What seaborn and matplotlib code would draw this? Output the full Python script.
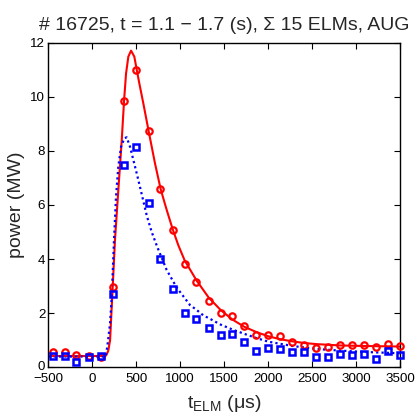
import numpy as np
import pandas as pd
import matplotlib
matplotlib.use("Agg")
import matplotlib.pyplot as plt
import matplotlib.transforms as mtransforms
import seaborn as sns

# ---- data ----
t_points = [-450, -315, -180, -40, 95, 230, 365, 500, 640, 775, 915, 1050, 1185,
            1325, 1460, 1595, 1730, 1865, 2000, 2140, 2275, 2410, 2545, 2680,
            2820, 2955, 3090, 3230, 3365, 3500]
red_points = [0.55, 0.55, 0.44, 0.43, 0.38, 2.96, 9.84, 11.0, 8.72, 6.58, 5.09,
              3.82, 3.15, 2.47, 2.0, 1.9, 1.53, 1.21, 1.21, 1.16, 0.92, 0.82,
              0.72, 0.76, 0.82, 0.82, 0.82, 0.77, 0.88, 0.78]
blue_points = [0.42, 0.42, 0.19, 0.40, 0.41, 2.72, 7.48, 8.15, 6.07, 4.0, 2.89,
               2.02, 1.78, 1.46, 1.21, 1.24, 0.92, 0.62, 0.73, 0.68, 0.58, 0.58,
               0.40, 0.40, 0.51, 0.46, 0.51, 0.31, 0.62, 0.47]

red_fit_t = [-500, 150, 164, 182, 202, 232, 258, 296, 335, 361, 384, 410, 441,
             478, 505, 535, 580, 642, 713, 778, 846, 915, 980, 1051, 1188, 1324,
             1460, 1593, 1729, 1870, 2002, 2138, 2279, 2411, 2548, 2821, 3094, 3500]
red_fit_v = [0.42, 0.42, 0.48, 0.62, 1.0, 2.96, 4.71, 6.55, 8.40, 9.84, 10.86,
             11.48, 11.70, 11.48, 11.0, 10.49, 9.76, 8.71, 7.54, 6.58, 5.82,
             5.10, 4.50, 3.95, 3.2, 2.58, 2.12, 1.77, 1.50, 1.30, 1.15, 1.04,
             0.96, 0.90, 0.86, 0.81, 0.79, 0.77]

blue_fit_t = [-500, 150, 171, 202, 221, 247, 270, 296, 327, 364, 391, 429, 467,
              505, 540, 580, 620, 676, 733, 770, 846, 960, 1112, 1188, 1263,
              1324, 1460, 1593, 1729, 1870, 2002, 2138, 2279, 2548, 2821, 3094, 3500]
blue_fit_v = [0.40, 0.40, 0.77, 1.63, 2.61, 4.71, 6.31, 7.42, 8.15, 8.46, 8.50,
              8.15, 7.66, 7.17, 6.70, 6.15, 5.60, 5.00, 4.50, 4.20, 3.60, 2.95,
              2.30, 2.12, 1.92, 1.82, 1.58, 1.40, 1.24, 1.08, 0.95, 0.87, 0.79,
              0.68, 0.62, 0.57, 0.52]

x_ticks = [-500, 0, 500, 1000, 1500, 2000, 2500, 3000, 3500]
y_ticks = [0, 2, 4, 6, 8, 10, 12]

title = "# 16725, t = 1.1 \u2212 1.7 (s), \u03a3 15 ELMs, AUG"
x_label = "$\\mathrm{t_{ELM}}$ (\u03bcs)"
y_label = "power (MW)"

# ---- style ----
sns.set_style("ticks")
plt.rcParams['font.family'] = ['Liberation Sans', 'DejaVu Sans']
plt.rcParams['mathtext.fontset'] = 'custom'
plt.rcParams['mathtext.rm'] = 'Liberation Sans'
plt.rcParams['mathtext.it'] = 'Liberation Sans:italic'
plt.rcParams['axes.unicode_minus'] = True

fig = plt.figure(figsize=(4.17, 4.17), dpi=100)
ax = fig.add_axes([0.116, 0.119, 0.843, 0.779])

red_fit = pd.DataFrame({"t": red_fit_t, "v": red_fit_v})
blue_fit = pd.DataFrame({"t": blue_fit_t, "v": blue_fit_v})
pts = pd.DataFrame({"t": t_points, "red": red_points, "blue": blue_points})

sns.lineplot(data=red_fit, x="t", y="v", ax=ax, color="#ff0000", lw=1.5,
             sort=False, estimator=None)
sns.lineplot(data=blue_fit, x="t", y="v", ax=ax, color="#0000ff", lw=1.6,
             linestyle=(0, (1, 1.4)), sort=False, estimator=None)
ax.plot(pts["t"], pts["red"], linestyle="none", marker="o", markersize=4.6,
        markerfacecolor="none", markeredgecolor="#ff0000", markeredgewidth=1.6,
        clip_on=False, zorder=5)
ax.plot(pts["t"], pts["blue"], linestyle="none", marker="s", markersize=4.3,
        markerfacecolor="none", markeredgecolor="#0000ff", markeredgewidth=1.8,
        clip_on=False, zorder=6)

ax.set_xlim(-500, 3500)
ax.set_ylim(0, 12)
ax.set_xticks(x_ticks)
ax.set_yticks(y_ticks)
ax.tick_params(direction="in", length=4, width=0.8, top=True, right=True,
               labelsize=9.6, colors="black")
ax.tick_params(axis="x", pad=4.0)
ax.tick_params(axis="y", pad=2.2)
ylbls = ax.get_yticklabels()
for lbl in ylbls:
    lbl.set_verticalalignment("center_baseline")
shift = mtransforms.ScaledTranslation(0, 1.3 / 72, fig.dpi_scale_trans)
ylbls[0].set_transform(ylbls[0].get_transform() + shift)
for s in ax.spines.values():
    s.set_visible(True)
    s.set_linewidth(1.0)
    s.set_color("black")

ax.set_title(title, fontsize=14, pad=9)
ax.set_ylabel(y_label, fontsize=14, labelpad=4)
ax.set_xlabel(x_label, fontsize=14, labelpad=6)

fig.savefig("out.png", dpi=100)
